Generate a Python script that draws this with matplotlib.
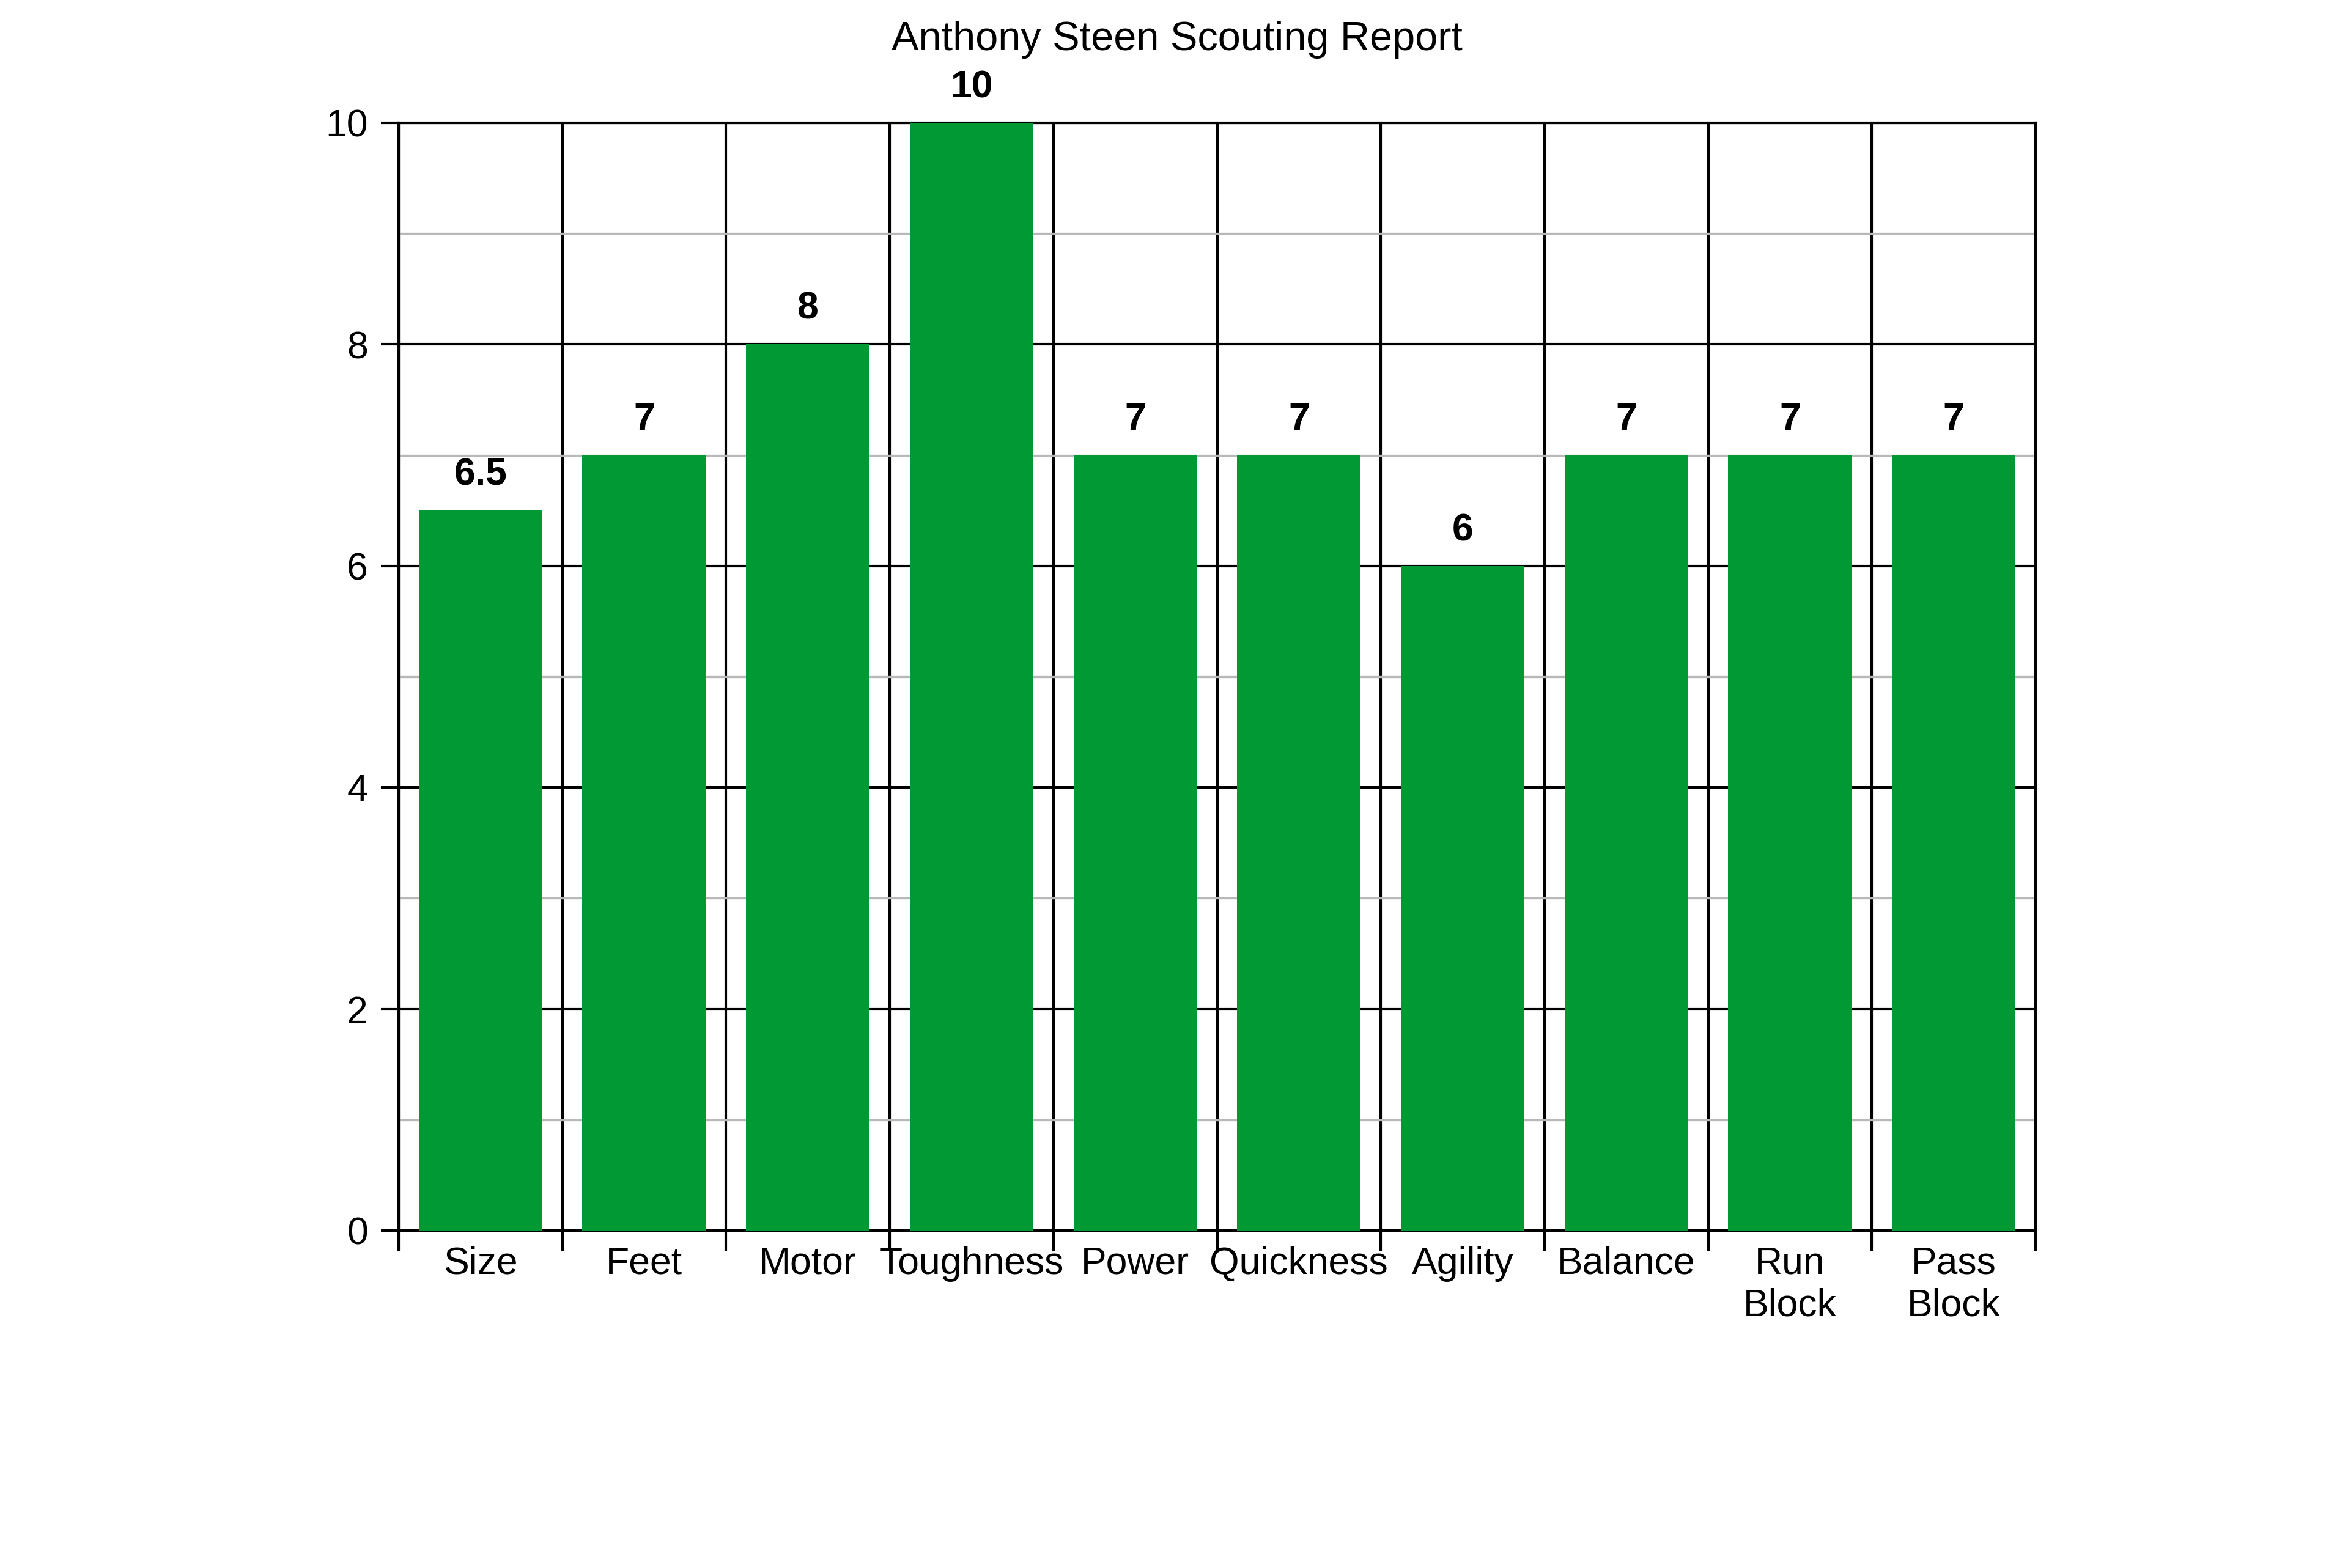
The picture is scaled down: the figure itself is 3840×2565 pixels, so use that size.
import matplotlib
matplotlib.use("Agg")
from matplotlib import pyplot as plt
from matplotlib.ticker import MultipleLocator, FixedLocator
import numpy as np

categories = ["Size", "Feet", "Motor", "Toughness", "Power", "Quickness",
              "Agility", "Balance", "Run\nBlock", "Pass\nBlock"]
scores = [6.5, 7, 8, 10, 7, 7, 6, 7, 7, 7]
score_labels = ["6.5", "7", "8", "10", "7", "7", "6", "7", "7", "7"]
title = "Anthony Steen Scouting Report"

plt.rcParams["font.family"] = ["Liberation Sans", "DejaVu Sans"]

fig = plt.figure(figsize=(12.8, 8.55), dpi=300)
ax = fig.add_axes([652 / 3840, 1 - 2013 / 2565, 2677 / 3840, 1812 / 2565])

x = np.arange(len(categories))
bar_color = "#009933"
ax.bar(x, scores, width=0.755, color=bar_color, zorder=3)

ax.set_xlim(-0.5, len(categories) - 0.5)
ax.set_ylim(0, 10)

# grid: black at majors, grey at minors, vertical black at category edges
ax.yaxis.set_major_locator(MultipleLocator(2))
ax.yaxis.set_minor_locator(MultipleLocator(1))
ax.xaxis.set_major_locator(FixedLocator(x))
ax.xaxis.set_minor_locator(FixedLocator(np.arange(len(categories) + 1) - 0.5))

ax.grid(axis="y", which="major", color="black", linewidth=1.0, zorder=1)
ax.grid(axis="y", which="minor", color="#b8b8b8", linewidth=0.8, zorder=1)
ax.grid(axis="x", which="minor", color="black", linewidth=1.0, zorder=1)
ax.set_axisbelow(True)

ax.set_xticks(x)
ax.set_xticklabels(categories, fontsize=15, multialignment="center")
ax.tick_params(axis="x", which="major", length=0, pad=6)
ax.tick_params(axis="x", which="minor", length=8, width=1.0, direction="out")
ax.tick_params(axis="y", which="major", length=7, width=1.0, labelsize=15,
               pad=5, direction="out")
ax.tick_params(axis="y", which="minor", length=0)

for side in ["top", "right", "left"]:
    ax.spines[side].set_linewidth(1.0)
ax.spines["bottom"].set_linewidth(1.4)

for xi, val, lab in zip(x, scores, score_labels):
    ax.annotate(lab, (xi, val), xytext=(0, 10), textcoords="offset points",
                ha="center", va="baseline", fontsize=15, fontweight="bold",
                annotation_clip=False, zorder=4)

fig.text(1925 / 3840, 1 - 82 / 2565, title, ha="center", va="baseline",
         fontsize=16)

fig.savefig("out.png", dpi=300, facecolor="white")
